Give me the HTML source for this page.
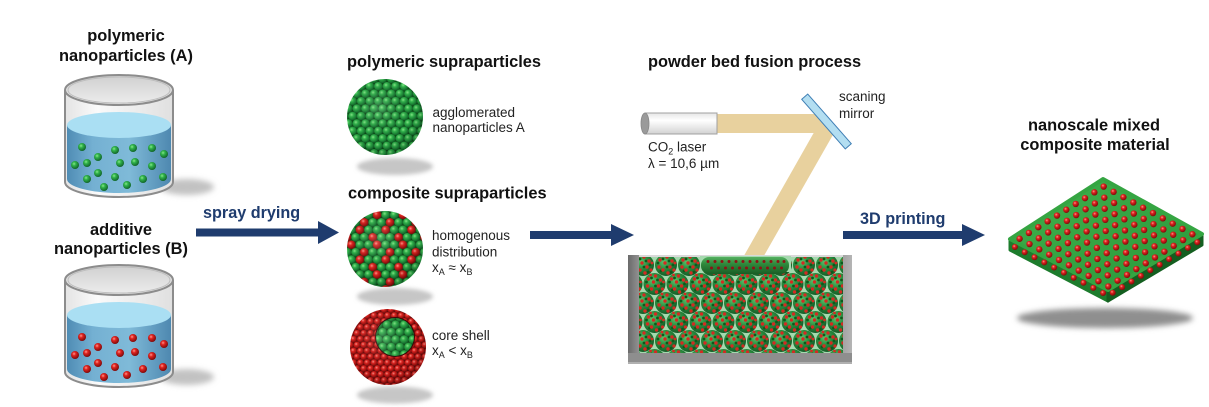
<!DOCTYPE html>
<html>
<head>
<meta charset="utf-8">
<style>
  html,body{margin:0;padding:0;background:#fff;}
  svg{display:block;}
  text{font-family:"Liberation Sans", Arial, sans-serif;}
  .h{font-weight:bold;font-size:16.4px;fill:#111;}
  .l{font-size:13.5px;fill:#222;}
  .b{font-weight:bold;font-size:16.2px;fill:#1f3c6e;}
</style>
</head>
<body>
<svg width="1209" height="407" viewBox="0 0 1209 407" xmlns="http://www.w3.org/2000/svg">
<defs>
  <radialGradient id="gB" cx="0.38" cy="0.35" r="0.65">
    <stop offset="0" stop-color="#8ae88a"/>
    <stop offset="0.35" stop-color="#31b44c"/>
    <stop offset="1" stop-color="#11662a"/>
  </radialGradient>
  <radialGradient id="rB" cx="0.38" cy="0.35" r="0.65">
    <stop offset="0" stop-color="#ff9a90"/>
    <stop offset="0.35" stop-color="#e02420"/>
    <stop offset="1" stop-color="#7e0a0a"/>
  </radialGradient>
  <radialGradient id="shade" cx="0.42" cy="0.38" r="0.62">
    <stop offset="0" stop-color="#fff" stop-opacity="0.15"/>
    <stop offset="0.7" stop-color="#000" stop-opacity="0"/>
    <stop offset="1" stop-color="#000" stop-opacity="0.18"/>
  </radialGradient>
  <radialGradient id="ggr" cx="0.4" cy="0.35" r="0.65">
    <stop offset="0" stop-color="#5cc46c"/>
    <stop offset="0.5" stop-color="#2a8c3e"/>
    <stop offset="1" stop-color="#165c28"/>
  </radialGradient>
  <linearGradient id="water" x1="0" y1="0" x2="1" y2="0">
    <stop offset="0" stop-color="#4f8cb4"/>
    <stop offset="0.25" stop-color="#74b0d2"/>
    <stop offset="0.6" stop-color="#7fbad8"/>
    <stop offset="1" stop-color="#4e88b0"/>
  </linearGradient>
  <linearGradient id="rim" x1="0" y1="0" x2="0" y2="1">
    <stop offset="0" stop-color="#cfcfcf"/>
    <stop offset="1" stop-color="#ededed"/>
  </linearGradient>
  <linearGradient id="glass" x1="0" y1="0" x2="1" y2="0">
    <stop offset="0" stop-color="#e4e4e4"/>
    <stop offset="0.3" stop-color="#fafafa"/>
    <stop offset="1" stop-color="#e0e0e0"/>
  </linearGradient>
  <linearGradient id="tube" x1="0" y1="0" x2="0" y2="1">
    <stop offset="0" stop-color="#e6e6e6"/>
    <stop offset="0.35" stop-color="#ffffff"/>
    <stop offset="1" stop-color="#d2d2d2"/>
  </linearGradient>
  <linearGradient id="box" x1="0" y1="0" x2="1" y2="0">
    <stop offset="0" stop-color="#6a6a6a"/>
    <stop offset="0.06" stop-color="#9a9a9a"/>
    <stop offset="0.94" stop-color="#9a9a9a"/>
    <stop offset="1" stop-color="#b5b5b5"/>
  </linearGradient>
  <linearGradient id="bar" x1="0" y1="0" x2="0" y2="1">
    <stop offset="0" stop-color="#55b060"/>
    <stop offset="0.4" stop-color="#2f8a3c"/>
    <stop offset="1" stop-color="#1a5e26"/>
  </linearGradient>
  <linearGradient id="slabTop" x1="0" y1="0" x2="1" y2="1">
    <stop offset="0" stop-color="#40b04c"/>
    <stop offset="1" stop-color="#2a983a"/>
  </linearGradient>
  <filter id="blur" x="-30%" y="-100%" width="160%" height="300%">
    <feGaussianBlur stdDeviation="3"/>
  </filter>
  <filter id="blur2" x="-30%" y="-100%" width="160%" height="300%">
    <feGaussianBlur stdDeviation="2"/>
  </filter>

  <pattern id="pg" patternUnits="userSpaceOnUse" width="8.6" height="14.9">
    <rect width="8.6" height="14.9" fill="#0c4a17"/>
    <circle cx="0" cy="-3.15" r="4.3" fill="url(#gB)"/>
    <circle cx="8.6" cy="-3.15" r="4.3" fill="url(#gB)"/>
    <circle cx="4.3" cy="4.3" r="4.3" fill="url(#gB)"/>
    <circle cx="0" cy="11.75" r="4.3" fill="url(#gB)"/>
    <circle cx="8.6" cy="11.75" r="4.3" fill="url(#gB)"/>
  </pattern>
  <pattern id="pm" patternUnits="userSpaceOnUse" width="25.8" height="29.8" x="3" y="2">
    <rect width="25.8" height="29.8" fill="#0c4a17"/>
    <circle cx="0" cy="-3.15" r="4.3" fill="url(#gB)"/>
    <circle cx="8.6" cy="-3.15" r="4.3" fill="url(#rB)"/>
    <circle cx="17.2" cy="-3.15" r="4.3" fill="url(#gB)"/>
    <circle cx="25.8" cy="-3.15" r="4.3" fill="url(#gB)"/>
    <circle cx="4.3" cy="4.3" r="4.3" fill="url(#gB)"/>
    <circle cx="12.9" cy="4.3" r="4.3" fill="url(#rB)"/>
    <circle cx="21.5" cy="4.3" r="4.3" fill="url(#gB)"/>
    <circle cx="0" cy="11.75" r="4.3" fill="url(#rB)"/>
    <circle cx="8.6" cy="11.75" r="4.3" fill="url(#gB)"/>
    <circle cx="17.2" cy="11.75" r="4.3" fill="url(#gB)"/>
    <circle cx="25.8" cy="11.75" r="4.3" fill="url(#rB)"/>
    <circle cx="4.3" cy="19.2" r="4.3" fill="url(#gB)"/>
    <circle cx="12.9" cy="19.2" r="4.3" fill="url(#gB)"/>
    <circle cx="21.5" cy="19.2" r="4.3" fill="url(#rB)"/>
    <circle cx="0" cy="26.65" r="4.3" fill="url(#gB)"/>
    <circle cx="8.6" cy="26.65" r="4.3" fill="url(#rB)"/>
    <circle cx="17.2" cy="26.65" r="4.3" fill="url(#gB)"/>
    <circle cx="25.8" cy="26.65" r="4.3" fill="url(#gB)"/>
  </pattern>
  <pattern id="pr" patternUnits="userSpaceOnUse" width="6.8" height="11.78">
    <rect width="6.8" height="11.78" fill="#5a0a0a"/>
    <circle cx="0" cy="-2.49" r="3.4" fill="url(#rB)"/>
    <circle cx="6.8" cy="-2.49" r="3.4" fill="url(#rB)"/>
    <circle cx="3.4" cy="3.4" r="3.4" fill="url(#rB)"/>
    <circle cx="0" cy="9.29" r="3.4" fill="url(#rB)"/>
    <circle cx="6.8" cy="9.29" r="3.4" fill="url(#rB)"/>
  </pattern>

  <g id="gran">
    <circle r="11" fill="url(#ggr)"/>
    <g fill="#0d5a1c">
      <circle cx="-3" cy="-6" r="1.4"/><circle cx="3" cy="-4" r="1.4"/><circle cx="1" cy="2" r="1.4"/>
      <circle cx="-5" cy="6" r="1.4"/><circle cx="-8" cy="-2" r="1.4"/><circle cx="7" cy="0" r="1.4"/>
      <circle cx="5" cy="7" r="1.3"/>
    </g>
    <g fill="#d42a22">
      <circle cx="-6" cy="-5" r="1.7"/><circle cx="1" cy="-8" r="1.7"/><circle cx="6" cy="-4" r="1.7"/>
      <circle cx="-1" cy="-2" r="1.7"/><circle cx="4" cy="2" r="1.7"/><circle cx="-7" cy="2" r="1.7"/>
      <circle cx="-3" cy="5" r="1.7"/><circle cx="2" cy="8" r="1.7"/><circle cx="8" cy="5" r="1.6"/>
      <circle cx="-4" cy="-9" r="1.4"/><circle cx="9" cy="-2" r="1.4"/>
    </g>
  </g>
  <pattern id="bed" patternUnits="userSpaceOnUse" x="631.5" y="255.5" width="23" height="38">
    <rect width="23" height="38" fill="#a5d9ae"/>
    <use href="#gran" x="0" y="-9.5"/>
    <use href="#gran" x="23" y="-9.5"/>
    <use href="#gran" x="11.5" y="9.5"/>
    <use href="#gran" x="0" y="28.5"/>
    <use href="#gran" x="23" y="28.5"/>
    <use href="#gran" x="11.5" y="47.5"/>
  </pattern>

  <g id="drow" fill="url(#rB)">
    <circle cx="4.9" cy="2.65" r="3.2"/><circle cx="14.8" cy="7.95" r="3.2"/><circle cx="24.6" cy="13.25" r="3.2"/>
    <circle cx="34.5" cy="18.55" r="3.2"/><circle cx="44.3" cy="23.85" r="3.2"/><circle cx="54.2" cy="29.15" r="3.2"/>
    <circle cx="64.0" cy="34.45" r="3.2"/><circle cx="73.9" cy="39.75" r="3.2"/><circle cx="83.7" cy="45.05" r="3.2"/>
    <circle cx="93.6" cy="50.35" r="3.2"/>
  </g>

  <g id="beaker">
    <ellipse cx="187" cy="187" rx="27" ry="8" fill="#c2c2c2" filter="url(#blur)"/>
    <path d="M65,90 L65,182 A54,15 0 0 0 173,182 L173,90 Z" fill="url(#glass)"/>
    <ellipse cx="119" cy="90" rx="54" ry="15" fill="url(#rim)"/>
    <path d="M67,125 L67,179 A52,14 0 0 0 171,179 L171,125 Z" fill="url(#water)"/>
    <ellipse cx="119" cy="125" rx="52" ry="13" fill="#aadff3"/>
    <path d="M65,90 L65,182 A54,15 0 0 0 173,182 L173,90" fill="none" stroke="#8c8c8c" stroke-width="2"/>
    <ellipse cx="119" cy="90" rx="54" ry="15" fill="none" stroke="#8c8c8c" stroke-width="2"/>
    <ellipse cx="119" cy="90" rx="51" ry="13" fill="none" stroke="#bdbdbd" stroke-width="1"/>
  </g>
</defs>

<!-- Beakers -->
<use href="#beaker"/>
<g fill="url(#gB)">
  <circle cx="82" cy="147" r="4"/><circle cx="98" cy="157" r="4"/><circle cx="115" cy="150" r="4"/>
  <circle cx="133" cy="148" r="4"/><circle cx="152" cy="148" r="4"/><circle cx="164" cy="154" r="4"/>
  <circle cx="75" cy="165" r="4"/><circle cx="87" cy="163" r="4"/><circle cx="120" cy="163" r="4"/>
  <circle cx="135" cy="162" r="4"/><circle cx="152" cy="166" r="4"/><circle cx="98" cy="173" r="4"/>
  <circle cx="115" cy="177" r="4"/><circle cx="87" cy="179" r="4"/><circle cx="143" cy="179" r="4"/>
  <circle cx="163" cy="177" r="4"/><circle cx="104" cy="187" r="4"/><circle cx="127" cy="185" r="4"/>
</g>
<g transform="translate(0,190)">
  <use href="#beaker"/>
  <g fill="url(#rB)">
    <circle cx="82" cy="147" r="4"/><circle cx="98" cy="157" r="4"/><circle cx="115" cy="150" r="4"/>
    <circle cx="133" cy="148" r="4"/><circle cx="152" cy="148" r="4"/><circle cx="164" cy="154" r="4"/>
    <circle cx="75" cy="165" r="4"/><circle cx="87" cy="163" r="4"/><circle cx="120" cy="163" r="4"/>
    <circle cx="135" cy="162" r="4"/><circle cx="152" cy="166" r="4"/><circle cx="98" cy="173" r="4"/>
    <circle cx="115" cy="177" r="4"/><circle cx="87" cy="179" r="4"/><circle cx="143" cy="179" r="4"/>
    <circle cx="163" cy="177" r="4"/><circle cx="104" cy="187" r="4"/><circle cx="127" cy="185" r="4"/>
  </g>
</g>

<text class="h" x="126" y="41" text-anchor="middle">polymeric</text>
<text class="h" x="126" y="61" text-anchor="middle">nanoparticles (A)</text>
<text class="h" x="121" y="235" text-anchor="middle">additive</text>
<text class="h" x="121" y="254" text-anchor="middle">nanoparticles (B)</text>

<!-- Arrows -->
<g fill="#1f3c6e">
  <rect x="196" y="228.5" width="123" height="8"/>
  <polygon points="318,221 339,232.5 318,244"/>
  <rect x="530" y="231" width="82" height="8"/>
  <polygon points="611,224 634,235 611,246"/>
  <rect x="843" y="231" width="120" height="8"/>
  <polygon points="962,224 985,235 962,246"/>
</g>
<text class="b" x="203" y="218">spray drying</text>
<text class="b" x="860" y="224">3D printing</text>

<!-- Supraparticles -->
<text class="h" x="347" y="67">polymeric supraparticles</text>
<text class="h" x="348" y="198.5">composite supraparticles</text>

<ellipse cx="395" cy="166.5" rx="38" ry="8.5" fill="#c6c6c6" filter="url(#blur2)"/>
<ellipse cx="395" cy="296.5" rx="38" ry="8.5" fill="#c6c6c6" filter="url(#blur2)"/>
<ellipse cx="395" cy="395" rx="38" ry="8.5" fill="#c6c6c6" filter="url(#blur2)"/>

<circle cx="385" cy="117" r="38" fill="url(#pg)"/>
<circle cx="385" cy="117" r="38" fill="url(#shade)"/>

<circle cx="385" cy="249" r="38" fill="url(#pm)"/>
<circle cx="385" cy="249" r="38" fill="url(#shade)"/>

<circle cx="388" cy="347" r="38" fill="url(#pr)"/>
<circle cx="395" cy="337" r="20" fill="#3a0606"/>
<circle cx="395" cy="337" r="19" fill="url(#pg)"/>
<circle cx="388" cy="347" r="38" fill="url(#shade)"/>

<text class="l" x="432.5" y="117">agglomerated</text>
<text class="l" x="432.5" y="132">nanoparticles A</text>
<text class="l" x="432" y="240">homogenous</text>
<text class="l" x="432" y="256.5">distribution</text>
<text class="l" x="432" y="272">x<tspan font-size="9" dy="3">A</tspan><tspan dy="-3"> ≈ x</tspan><tspan font-size="9" dy="3">B</tspan></text>
<text class="l" x="432" y="340">core shell</text>
<text class="l" x="432" y="355">x<tspan font-size="9" dy="3">A</tspan><tspan dy="-3"> &lt; x</tspan><tspan font-size="9" dy="3">B</tspan></text>

<!-- Powder bed fusion -->
<text class="h" x="648" y="67">powder bed fusion process</text>

<g fill="#e8d19e">
  <polygon points="717,114 820,114 836.6,133 717,133"/>
  <polygon points="822.5,117.4 835,131.2 762.7,258 742.7,258"/>
</g>
<rect x="645" y="113" width="72" height="21" fill="url(#tube)" stroke="#a0a0a0" stroke-width="1"/>
<ellipse cx="645" cy="123.5" rx="4" ry="10.5" fill="#9a9a9a" stroke="#888" stroke-width="0.8"/>
<rect x="-33" y="-4" width="66" height="8" transform="translate(826.5,121.5) rotate(48.7)" fill="#b3def1" stroke="#3f7fb5" stroke-width="1"/>

<text class="l" x="839" y="101">scaning</text>
<text class="l" x="839" y="118">mirror</text>
<text class="l" x="648" y="151.5">CO<tspan font-size="9" dy="3">2</tspan><tspan dy="-3"> laser</tspan></text>
<text class="l" x="648" y="168">λ = 10,6 µm</text>

<rect x="628" y="255" width="224" height="109" fill="url(#box)"/>
<rect x="628" y="353" width="224" height="11" fill="#8e8e8e"/>
<rect x="628" y="362" width="224" height="2" fill="#b0b0b0"/>
<rect x="639" y="255" width="204" height="98" fill="#d9d9d9"/>
<rect x="639" y="257" width="204" height="96" fill="url(#bed)"/>
<rect x="700" y="256" width="91" height="16" fill="#a5d9ae"/>
<rect x="701" y="257" width="88" height="17" rx="8" fill="url(#bar)"/>
<g fill="#8a1515">
  <circle cx="708" cy="261.5" r="1.5"/><circle cx="715" cy="261.5" r="1.5"/><circle cx="722" cy="261.5" r="1.5"/>
  <circle cx="729" cy="261.5" r="1.5"/><circle cx="736" cy="261.5" r="1.5"/><circle cx="743" cy="261.5" r="1.5"/>
  <circle cx="750" cy="261.5" r="1.5"/><circle cx="757" cy="261.5" r="1.5"/><circle cx="764" cy="261.5" r="1.5"/>
  <circle cx="771" cy="261.5" r="1.5"/><circle cx="778" cy="261.5" r="1.5"/><circle cx="784" cy="261.5" r="1.5"/>
  <circle cx="711.5" cy="268" r="1.5"/><circle cx="718.5" cy="268" r="1.5"/><circle cx="725.5" cy="268" r="1.5"/>
  <circle cx="732.5" cy="268" r="1.5"/><circle cx="739.5" cy="268" r="1.5"/><circle cx="746.5" cy="268" r="1.5"/>
  <circle cx="753.5" cy="268" r="1.5"/><circle cx="760.5" cy="268" r="1.5"/><circle cx="767.5" cy="268" r="1.5"/>
  <circle cx="774.5" cy="268" r="1.5"/><circle cx="781.5" cy="268" r="1.5"/>
</g>

<!-- Final material -->
<text class="h" x="1094" y="130.3" text-anchor="middle">nanoscale mixed</text>
<text class="h" x="1095" y="150" text-anchor="middle">composite material</text>

<ellipse cx="1105" cy="318" rx="88" ry="10" fill="#8f8f8f" filter="url(#blur)"/>

<polygon points="1010,239 1108,290 1108,301 1010,250" fill="#1d7c2d" stroke="#1d7c2d" stroke-width="3" stroke-linejoin="round"/>
<polygon points="1108,290 1202,234 1202,245 1108,301" fill="#145f20" stroke="#145f20" stroke-width="3" stroke-linejoin="round"/>
<polygon points="1010,239 1103,179 1202,234 1108,290" fill="url(#slabTop)" stroke="#35a542" stroke-width="4" stroke-linejoin="round"/>

<use href="#drow" x="1014.7" y="236.1"/>
<use href="#drow" x="1024.0" y="230.3"/>
<use href="#drow" x="1033.4" y="224.5"/>
<use href="#drow" x="1042.7" y="218.7"/>
<use href="#drow" x="1052.1" y="212.9"/>
<use href="#drow" x="1061.4" y="207.1"/>
<use href="#drow" x="1070.8" y="201.3"/>
<use href="#drow" x="1080.1" y="195.5"/>
<use href="#drow" x="1089.5" y="189.7"/>
<use href="#drow" x="1098.8" y="183.9"/>

<g fill="url(#rB)">
  <circle cx="1014.9" cy="247" r="3"/><circle cx="1024.7" cy="252.2" r="3"/><circle cx="1034.5" cy="257.3" r="3"/>
  <circle cx="1044.3" cy="262.4" r="3"/><circle cx="1054.1" cy="267.5" r="3"/><circle cx="1063.9" cy="272.6" r="3"/>
  <circle cx="1073.7" cy="277.7" r="3"/><circle cx="1083.5" cy="282.8" r="3"/><circle cx="1093.3" cy="287.9" r="3"/>
  <circle cx="1103.1" cy="293" r="3"/>
  <circle cx="1112.7" cy="292.7" r="3"/><circle cx="1122.1" cy="287.1" r="3"/><circle cx="1131.5" cy="281.5" r="3"/>
  <circle cx="1140.9" cy="275.9" r="3"/><circle cx="1150.3" cy="270.3" r="3"/><circle cx="1159.7" cy="264.7" r="3"/>
  <circle cx="1169.1" cy="259.1" r="3"/><circle cx="1178.5" cy="253.5" r="3"/><circle cx="1187.9" cy="247.9" r="3"/>
  <circle cx="1197.3" cy="242.3" r="3"/>
</g>
</svg>
</body>
</html>
